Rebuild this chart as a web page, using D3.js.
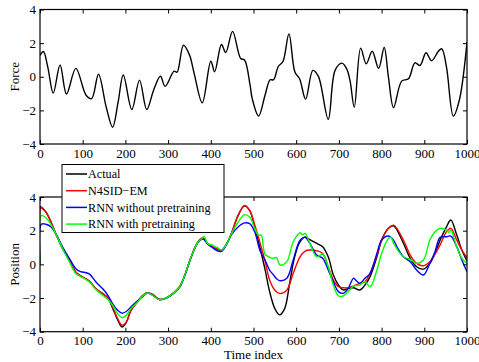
<!DOCTYPE html>
<html><head><meta charset="utf-8">
<script src="https://cdn.jsdelivr.net/npm/d3@7"></script>
<style>
html,body{margin:0;padding:0;background:#fff;}
svg text{font-family:"Liberation Serif","Times New Roman",serif;fill:#000;}
</style></head>
<body>
<svg id="chart" width="479" height="362"></svg>
<script>
// ---------- DATA ----------
const xTicks = [0,100,200,300,400,500,600,700,800,900,1000];
const yTicks = [-4,-2,0,2,4];
const legendLabels = ["Actual","N4SID\u2212EM","RNN without pretraining","RNN with pretraining"];
const seriesColors = ["#000000","#ff0000","#0000ff","#00ff00"];

const force = [[0,1.27],[8,1.5],[18,0.6],[31,-0.97],[47,0.7],[62,-1.03],[84,0.5],[108,-1.1],[121,-1.3],[137,0.15],[155,-1.8],[170,-3.0],[183,-1.5],[195,0.1],[215,-1.95],[233,-0.2],[250,-1.95],[266,-0.8],[282,0.03],[293,-0.57],[314,0.33],[321,0.27],[336,1.87],[350,1.3],[361,0.2],[380,-1.55],[400,0.92],[409,0.3],[425,1.92],[435,1.44],[451,2.7],[470,1.08],[479,1.0],[492,-0.5],[497,-1.3],[512,-2.34],[527,-1.1],[539,-0.18],[547,-0.18],[558,0.61],[569,0.91],[583,2.55],[597,0.28],[608,-0.12],[622,-1.33],[639,0.38],[652,0.02],[675,-2.53],[691,0.38],[707,0.81],[718,0.48],[726,-0.22],[736,-1.82],[751,1.7],[764,0.77],[778,1.52],[793,0.5],[806,1.74],[816,-0.02],[828,-1.84],[847,-0.26],[863,-0.12],[878,0.83],[890,0.67],[904,1.43],[917,0.95],[933,1.52],[941,1.66],[952,0.57],[968,-2.34],[982,-1.4],[1000,2.06]];

const actual = [[0,3.45],[14,3.1],[26,2.5],[37,1.82],[53,0.93],[69,0.24],[84,-0.46],[100,-0.75],[116,-1.0],[131,-1.45],[147,-1.74],[159,-2.0],[170,-2.6],[182,-3.3],[192,-3.72],[202,-3.45],[213,-2.73],[225,-2.33],[241,-1.84],[252,-1.68],[264,-1.8],[280,-2.08],[295,-2.0],[311,-1.74],[327,-1.35],[339,-0.65],[354,0.44],[370,1.33],[382,1.56],[393,1.23],[405,1.03],[417,0.89],[425,0.83],[436,1.17],[448,1.82],[464,2.91],[479,3.47],[491,3.2],[503,2.22],[515,1.0],[527,-0.3],[538,-1.64],[550,-2.63],[561,-3.0],[573,-2.63],[585,-1.05],[596,0.4],[608,1.3],[620,1.62],[632,1.47],[648,1.25],[662,1.05],[675,0.45],[687,-0.63],[699,-1.23],[710,-1.52],[722,-1.43],[734,-1.39],[749,-1.52],[761,-1.23],[773,-0.73],[789,0.45],[800,1.44],[816,2.14],[828,2.29],[851,1.25],[867,0.36],[882,-0.14],[898,-0.28],[913,0.06],[925,0.65],[937,1.44],[952,2.23],[962,2.63],[976,1.74],[988,0.85],[1000,0.2]];

const n4sid = [[0,0],[3,3.4],[14,3.1],[26,2.5],[37,1.82],[53,0.93],[69,0.24],[84,-0.46],[100,-0.75],[116,-1.0],[131,-1.45],[147,-1.74],[159,-2.0],[170,-2.53],[182,-3.23],[192,-3.62],[202,-3.43],[213,-2.73],[225,-2.33],[241,-1.84],[252,-1.68],[264,-1.8],[280,-2.08],[295,-2.0],[311,-1.74],[327,-1.3],[339,-0.65],[354,0.44],[370,1.33],[382,1.56],[393,1.23],[405,1.03],[417,0.89],[425,0.83],[436,1.17],[448,1.82],[464,2.91],[479,3.5],[491,3.2],[503,2.32],[515,1.3],[527,0.2],[538,-0.95],[550,-1.54],[562,-1.74],[578,-1.53],[593,-0.53],[609,0.45],[621,0.79],[632,0.85],[648,0.81],[662,0.65],[675,-0.14],[687,-0.93],[699,-1.33],[710,-1.39],[722,-1.39],[734,-1.29],[749,-1.13],[761,-1.03],[773,-0.53],[789,0.55],[800,1.44],[816,2.14],[828,2.33],[851,1.44],[867,0.55],[882,0.06],[898,-0.08],[913,0.16],[925,0.6],[937,1.15],[952,1.94],[962,2.14],[976,1.44],[988,0.85],[1000,0.4]];

const rnnNoPre = [[0,0],[3,2.38],[14,2.38],[26,2.22],[37,1.82],[53,1.03],[69,0.34],[84,-0.26],[95,-0.43],[108,-0.5],[116,-0.58],[131,-1.05],[147,-1.45],[159,-1.84],[170,-2.33],[182,-2.73],[192,-2.9],[202,-2.8],[213,-2.53],[225,-2.24],[241,-1.9],[252,-1.7],[264,-1.85],[280,-2.1],[295,-2.02],[311,-1.76],[327,-1.35],[339,-0.67],[354,0.42],[370,1.3],[382,1.5],[393,1.2],[405,0.97],[417,0.79],[425,0.77],[436,1.15],[448,1.75],[464,2.22],[479,2.46],[491,2.42],[503,1.92],[515,0.83],[527,0.26],[538,-0.36],[546,-0.6],[554,-0.85],[562,-0.97],[578,-0.83],[593,0.26],[609,1.44],[621,1.6],[632,1.25],[648,0.55],[662,0.36],[675,-0.34],[687,-1.03],[699,-1.62],[710,-1.72],[722,-1.43],[734,-0.83],[742,-1.0],[749,-1.13],[761,-0.83],[773,-0.53],[789,0.65],[800,1.44],[816,1.68],[828,1.44],[835,1.09],[851,0.45],[867,0.16],[882,-0.34],[898,-0.63],[913,0.06],[925,0.75],[937,1.6],[952,1.64],[962,1.68],[976,1.05],[988,0.26],[1000,-0.44]];

const rnnPre = [[0,0],[3,2.9],[14,2.75],[26,2.36],[37,1.82],[53,0.93],[69,0.14],[84,-0.55],[100,-0.79],[116,-1.05],[131,-1.5],[147,-1.84],[159,-2.08],[170,-2.43],[182,-2.93],[192,-3.17],[202,-3.03],[213,-2.63],[225,-2.33],[241,-1.86],[252,-1.7],[264,-1.85],[280,-2.1],[295,-2.0],[311,-1.74],[327,-1.33],[339,-0.65],[354,0.44],[370,1.33],[378,1.5],[384,1.66],[393,1.23],[405,1.13],[417,0.97],[425,0.85],[436,1.17],[448,1.8],[464,2.51],[479,2.95],[491,2.81],[503,2.12],[512,1.72],[518,1.74],[527,0.6],[538,0.42],[546,0.36],[554,0.4],[562,-0.04],[578,0.16],[593,1.34],[609,1.88],[615,1.75],[621,1.84],[632,1.25],[648,0.45],[662,0.61],[675,-0.14],[687,-1.23],[699,-1.88],[710,-1.88],[722,-1.62],[734,-1.29],[749,-1.23],[761,-1.03],[773,-1.33],[789,-0.34],[800,0.65],[816,1.54],[822,1.6],[828,1.25],[835,0.95],[851,0.45],[867,0.3],[882,0.06],[898,0.26],[913,1.44],[925,1.94],[937,2.14],[952,2.04],[957,1.9],[962,2.04],[976,1.05],[988,0.36],[1000,0.06]];

// ---------- LAYOUT ----------
const svg = d3.select("#chart");
const X0 = 40, X1 = 467;
const panels = [
  {top: 9.5, bottom: 144, label: "Force"},
  {top: 197, bottom: 331.7, label: "Position"}
];
const x = d3.scaleLinear().domain([0,1000]).range([X0,X1]);
const fmt = d => d < 0 ? "\u2212" + Math.abs(d) : String(d);
const FS = 13;

panels.forEach((p,i) => {
  p.y = d3.scaleLinear().domain([-4,4]).range([p.bottom,p.top]);
  p.g = svg.append("g");
  p.clip = "clip"+i;
  svg.append("clipPath").attr("id",p.clip).append("rect")
    .attr("x",X0).attr("y",p.top).attr("width",X1-X0).attr("height",p.bottom-p.top);
});

function styleAxis(sel, showText){
  sel.select(".domain").remove();
  sel.selectAll(".tick line").attr("stroke","#000").attr("stroke-width",1);
  sel.selectAll("text").style("font-size",FS+"px").style("font-family","'Liberation Serif',serif");
  if(!showText) sel.selectAll("text").remove();
}

const makeLine = (p) => d3.line().x(d=>x(d[0])).y(d=>p.y(d[1])).curve(d3.curveCatmullRom.alpha(0.5));

const topPanel = panels[0], botPanel = panels[1];
topPanel.g.append("path").datum(force).attr("clip-path","url(#"+topPanel.clip+")")
  .attr("fill","none").attr("stroke","#000").attr("stroke-width",1.4).attr("d",makeLine(topPanel));

[actual,n4sid,rnnNoPre,rnnPre].forEach((s,k)=>{
  botPanel.g.append("path").datum(s).attr("clip-path","url(#"+botPanel.clip+")")
    .attr("fill","none").attr("stroke",seriesColors[k]).attr("stroke-width",1.4).attr("d",makeLine(botPanel));
});

panels.forEach(p => {
  const g = p.g;
  g.append("g").attr("transform",`translate(0,${p.bottom})`)
    .call(d3.axisBottom(x).tickValues(xTicks).tickFormat(fmt).tickSizeInner(-4).tickSizeOuter(0).tickPadding(4.5))
    .call(s=>styleAxis(s,true));
  g.append("g").attr("transform",`translate(0,${p.top})`)
    .call(d3.axisTop(x).tickValues(xTicks).tickSizeInner(-4).tickSizeOuter(0))
    .call(s=>styleAxis(s,false));
  g.append("g").attr("transform",`translate(${X0},0)`)
    .call(d3.axisLeft(p.y).tickValues(yTicks).tickFormat(fmt).tickSizeInner(-4).tickSizeOuter(0).tickPadding(4))
    .call(s=>styleAxis(s,true));
  g.append("g").attr("transform",`translate(${X1},0)`)
    .call(d3.axisRight(p.y).tickValues(yTicks).tickSizeInner(-4).tickSizeOuter(0))
    .call(s=>styleAxis(s,false));
  g.append("rect").attr("x",X0).attr("y",p.top).attr("width",X1-X0).attr("height",p.bottom-p.top)
    .attr("fill","none").attr("stroke","#000").attr("stroke-width",1.2);
  g.append("text").attr("transform",`translate(18.5,${(p.top+p.bottom)/2}) rotate(-90)`)
    .attr("text-anchor","middle").style("font-size",FS+"px").text(p.label);
});

svg.append("text").attr("x",(X0+X1)/2).attr("y",359).attr("text-anchor","middle")
  .style("font-size",FS+"px").text("Time index");

// legend
const lg = svg.append("g");
lg.append("rect").attr("x",62).attr("y",164.5).attr("width",162).attr("height",68)
  .attr("fill","#fff").attr("stroke","#000").attr("stroke-width",1);
legendLabels.forEach((lab,k)=>{
  const cy = 174 + k*16.7;
  lg.append("line").attr("x1",66).attr("x2",87).attr("y1",cy).attr("y2",cy)
    .attr("stroke",seriesColors[k]).attr("stroke-width",1.5);
  lg.append("text").attr("x",88).attr("y",cy).attr("dy","0.35em")
    .style("font-size","12.2px").text(lab);
});
</script>
</body></html>
